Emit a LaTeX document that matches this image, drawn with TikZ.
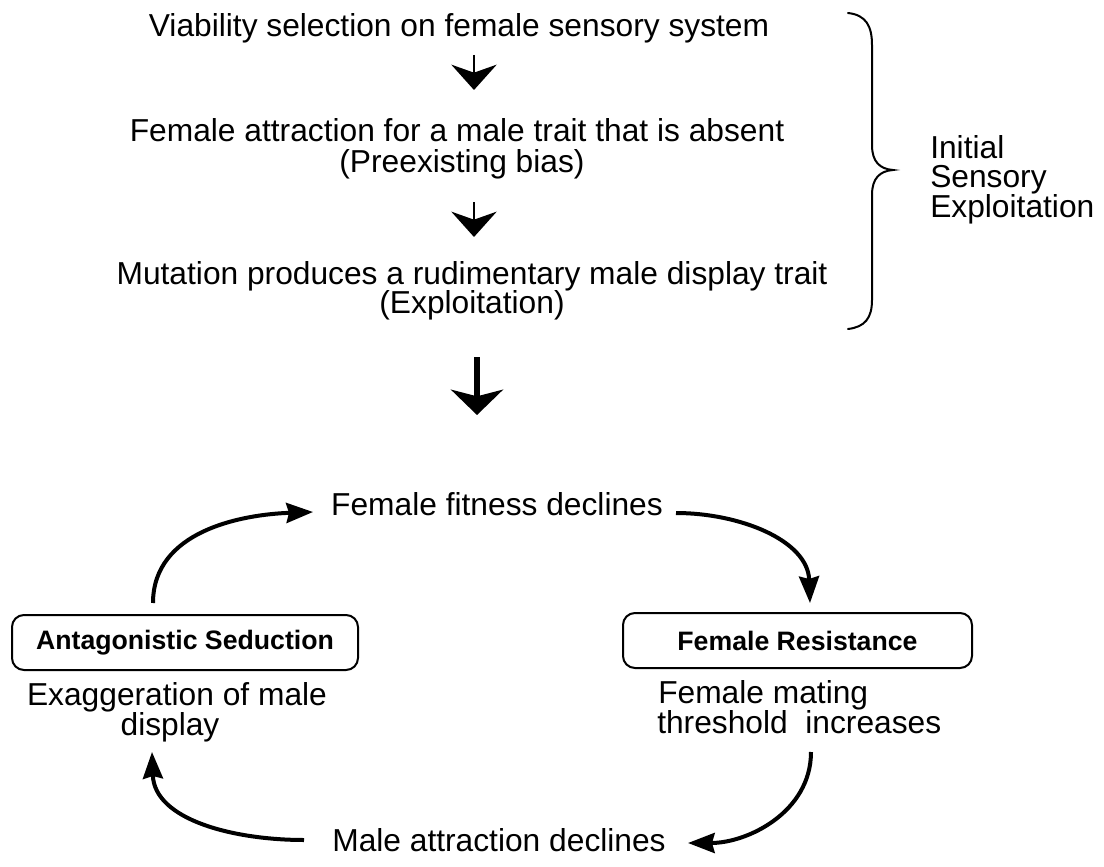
\documentclass[tikz,border=0pt]{standalone}
\usepackage{fontspec}
\setmainfont{Liberation Sans}
\usetikzlibrary{arrows.meta}
\begin{document}
\begin{tikzpicture}[x=0.75pt,y=-0.75pt,
  txt/.style={font=\fontsize{23.8}{22.5}\selectfont, inner sep=0pt, anchor=base},
  txtl/.style={txt, anchor=base west},
  box/.style={draw, line width=1.5pt, rounded corners=9pt, inner sep=0pt,
              minimum height=41.25pt, font=\fontsize{20}{24}\selectfont\bfseries},
  sarrow/.style={line width=1.5pt, -{Stealth[length=19pt,width=34pt,inset=6pt]}},
  barrow/.style={line width=5pt, -{Stealth[length=19pt,width=39pt,inset=5pt]}},
  carrow/.style={line width=3pt, -{Stealth[length=20pt,width=15pt,inset=2pt]}},
  bracepath/.style={line width=1.5pt, line cap=round}
]
\useasboundingbox (0,0) rectangle (1104,867);

% top stack
\node[txt] (t1) at (459,37) {Viability selection on female sensory system};
\node[txt] (t2a) at (457,142) {Female attraction for a male trait that is absent};
\node[txt] (t2b) at (462,172) {(Preexisting bias)};
\node[txt] (t3a) at (472,284) {Mutation produces a rudimentary male display trait};
\node[txt] (t3b) at (472,313) {(Exploitation)};

\coordinate (a1s) at (474,55);  \coordinate (a1e) at (474,90);
\coordinate (a2s) at (474,202); \coordinate (a2e) at (474,237);
\coordinate (a3s) at (477,357); \coordinate (a3e) at (477,415);
\draw[sarrow] (a1s) -- (a1e);
\draw[sarrow] (a2s) -- (a2e);
\draw[barrow] (a3s) -- (a3e);

% brace
\draw[bracepath] (848,13) .. controls (866,15) and (872,26) .. (872,45)
  -- (872,145) .. controls (872,162) and (880,169) .. (893,170)
  .. controls (880,171) and (872,178) .. (872,195)
  -- (872,300) .. controls (872,318) and (865,327) .. (848,329);
\node[txtl] (i1) at (930,158) {Initial};
\node[txtl] (i2) at (930,187) {Sensory};
\node[txtl] (i3) at (930,217) {Exploitation};

% cycle
\node[txt] (ffd) at (497,515) {Female fitness declines};
\node[box, minimum width=259.5pt] (as) at (185,642.5) {Antagonistic Seduction};
\node[box, minimum width=261.75pt] (fr) at (797.5,640.5) {Female Resistance};
\node[txt] (ex1) at (177,705) {Exaggeration of male};
\node[txt] (ex2) at (170,735) {display};
\node[txtl] (fm1) at (658,703) {Female mating};
\node[txtl] (fm2) at (657,733) {threshold\ \ increases};
\node[txt] (mad) at (499,851) {Male attraction declines};

\coordinate (c1s) at (153,603); \coordinate (c1e) at (313,512);
\coordinate (c2s) at (676,513); \coordinate (c2e) at (810,603);
\coordinate (c3s) at (811,752); \coordinate (c3e) at (688,843);
\coordinate (c4s) at (304,840); \coordinate (c4e) at (152,752);
\draw[carrow] (c1s) to[out=90,in=182] (c1e);
\draw[carrow] (c2s) to[out=0,in=92] (c2e);
\draw[carrow] (c3s) to[out=-90,in=0] (c3e);
\draw[carrow] (c4s) to[out=180,in=-88] (c4e);
\end{tikzpicture}
\end{document}
